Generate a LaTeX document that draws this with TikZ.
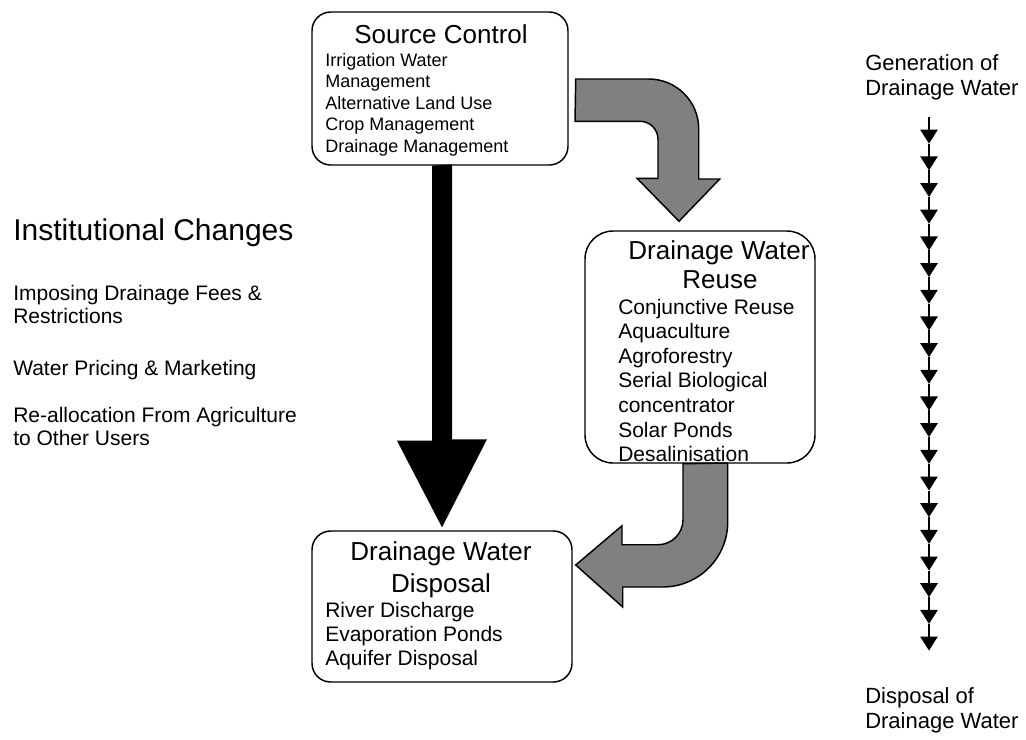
\documentclass[tikz,border=0pt]{standalone}
\usepackage{fontspec}
\setmainfont{Liberation Sans}
\usetikzlibrary{arrows.meta, calc}

\tikzset{
    panel/.style={draw=black, line width=1.1pt, rounded corners=#1},
    panel/.default=14pt,
    bendarrow/.style={draw=black, fill=gray, line width=1.1pt, line join=miter},
    head/.style={font=\fontsize{19.5}{23}\selectfont, inner sep=0pt, anchor=base},
    item/.style={font=\fontsize{15.75}{19}\selectfont, inner sep=0pt, anchor=base west},
    smallitem/.style={font=\fontsize{13.5}{16}\selectfont, inner sep=0pt, anchor=base west},
    sidetext/.style={font=\fontsize{16.5}{20}\selectfont, inner sep=0pt, anchor=base west},
    chain/.style={line width=1.1pt, -{Triangle[length=10.5pt, width=13pt]}},
}

\begin{document}
\begin{tikzpicture}[x=0.75pt, y=-0.75pt]
        \useasboundingbox (0,0) rectangle (1026,740);

        \node[panel, minimum width=192pt, minimum height=114.75pt] (src) at (440,88.5) {};
        \node[panel=21pt, minimum width=172.5pt, minimum height=174pt] (reuse) at (700,347) {};
        \node[panel, minimum width=195pt, minimum height=113.25pt] (disp) at (442,606.5) {};

        \node[head] (srcttl) at (441,43) {Source Control};
        \foreach \t [count=\i] in {Irrigation Water, Management, Alternative Land Use, Crop Management, Drainage Management} {
            \node[smallitem] (src-\i) at (325,{44.5+21.5*\i}) {\t};
        }

        \node[head] (reusettl) at (719,259) {Drainage Water};
        \node[head] (reusettl2) at (720,288) {Reuse};
        \foreach \t [count=\i] in {Conjunctive Reuse, Aquaculture, Agroforestry, Serial Biological, concentrator, Solar Ponds, Desalinisation} {
            \node[item] (reuse-\i) at (618,{289.4+24.6*\i}) {\t};
        }

        \node[head] (dispttl) at (441,560) {Drainage Water};
        \node[head] (dispttl2) at (441,592) {Disposal};
        \foreach \t [count=\i] in {River Discharge, Evaporation Ponds, Aquifer Disposal} {
            \node[item] (disp-\i) at (325,{593.5+24*\i}) {\t};
        }

        \node[font=\fontsize{22.5}{27}\selectfont, inner sep=0pt, anchor=base west] (inst) at (13,240) {Institutional Changes};
        \node[item] (inst-1) at (13,300) {Imposing Drainage Fees \&};
        \node[item] (inst-2) at (13,323) {Restrictions};
        \node[item] (inst-3) at (13,375) {Water Pricing \& Marketing};
        \node[item] (inst-4) at (13,422) {Re-allocation From Agriculture};
        \node[item] (inst-5) at (13,445) {to Other Users};

        \node[sidetext] (gen) at (865,70) {Generation of};
        \node[sidetext] (gen2) at (865,95) {Drainage Water};
        \node[sidetext] (end) at (865,703) {Disposal of};
        \node[sidetext] (end2) at (865,728) {Drainage Water};

        \coordinate (w0) at ($(src.south)+(2,0)$);
        \fill[black] (w0) ++(-10,0) -- ++(0,275) -- ++(-35,0) -- ($(disp.north)+(0,-3)$) -- ++(45,-88) -- ++(-35,0) -- ++(0,-275) -- cycle;

        \coordinate (u0) at ($(src.east)+(7,-9.5)$);
        \coordinate (u1) at ($(reuse.north)+(-21,-9)$);
        \draw[bendarrow] (u0) -- ++(73,0) arc[start angle=-90, end angle=0, radius=50] -- ++(0,50) -- ++(21,0) -- (u1) -- ++(-42,-43) -- ++(21,0) -- ++(0,-39) arc[start angle=0, end angle=-90, radius=18] -- ++(-65,0) -- cycle;

        \coordinate (v0) at ($(reuse.south)+(-17,0)$);
        \coordinate (v1) at ($(disp.east)+(3,-41.5)$);
        \draw[bendarrow] (v0) -- ++(0,56) arc[start angle=0, end angle=90, radius=25] -- ++(-36,0) -- ++(0,-19) -- (v1) -- ++(47,42) -- ++(0,-20) -- ++(40,0) arc[start angle=90, end angle=0, radius=65] -- ++(0,-59) -- cycle;

        \coordinate (c0) at (929,117);
        \foreach \i in {0,...,19} {
            \draw[chain] ($(c0)+(0,26.68*\i)$) -- ++(0,26.68);
        }
    \end{tikzpicture}
\end{document}
